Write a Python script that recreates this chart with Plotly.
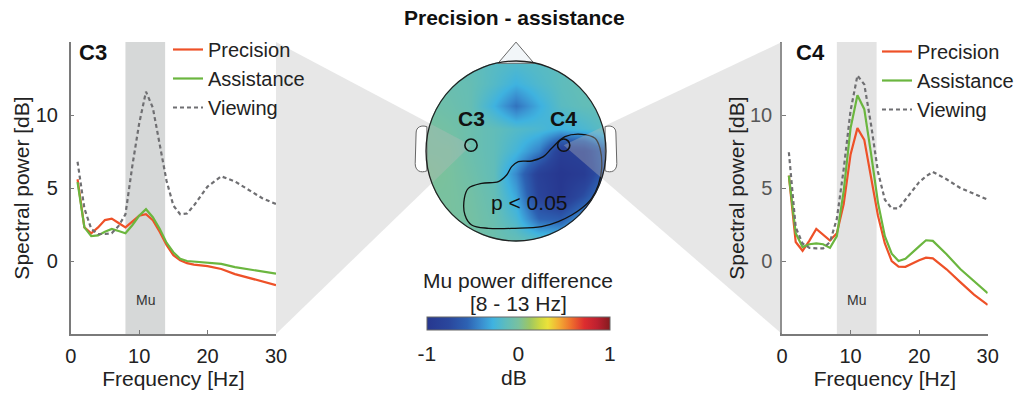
import plotly.graph_objects as go

# ---------------- data ----------------
freq_c3 = [1, 2, 3, 4, 5, 6, 7, 8, 9, 10, 11, 12, 13, 14, 15, 16, 17, 18, 20, 22, 24, 26, 28, 30]
precision_c3 = [5.6, 2.3, 1.9, 2.3, 2.8, 2.9, 2.6, 2.3, 2.7, 3.1, 3.2, 2.8, 2.0, 1.1, 0.4, 0.05, -0.15, -0.25,
                -0.35, -0.55, -0.9, -1.15, -1.4, -1.65]
assistance_c3 = [5.4, 2.3, 1.7, 1.75, 2.0, 2.2, 2.05, 1.9, 2.45, 3.1, 3.55, 3.0, 2.2, 1.25, 0.6, 0.15, 0.0, -0.05,
                 -0.1, -0.2, -0.42, -0.58, -0.72, -0.87]
viewing_c3 = [6.8, 3.6, 2.2, 1.85, 1.85, 1.9, 2.4, 3.2, 6.5, 9.4, 11.6, 10.5, 8.0, 5.5, 3.8, 3.2, 3.25, 3.8,
              5.1, 5.8, 5.45, 4.85, 4.3, 3.9]

freq_c4 = [1, 2, 3, 4, 5, 6, 7, 8, 9, 10, 11, 12, 13, 14, 15, 16, 17, 18, 20, 21, 22, 24, 26, 28, 30]
precision_c4 = [5.85, 1.3, 0.7, 1.4, 2.2, 1.8, 1.4, 1.9, 3.9, 7.3, 9.1, 8.3, 5.6, 3.1, 1.2, 0.0, -0.38, -0.4,
                0.05, 0.23, 0.18, -0.57, -1.45, -2.3, -3.0]
assistance_c4 = [5.85, 1.9, 0.96, 1.15, 1.2, 1.15, 0.9, 1.7, 4.8, 9.1, 11.35, 10.4, 7.3, 4.0, 1.7, 0.5, 0.0, 0.15,
                 1.0, 1.42, 1.38, 0.46, -0.55, -1.4, -2.2]
viewing_c4 = [7.45, 2.3, 1.2, 0.9, 0.87, 0.87, 1.3, 2.9, 6.3, 10.3, 12.7, 12.1, 9.3, 6.1, 4.2, 3.6, 3.6, 4.2,
              5.4, 5.8, 6.1, 5.6, 5.0, 4.6, 4.2]

mu_band = [8, 13.8]
x_ticks = [0, 10, 20, 30]
y_ticks = [0, 5, 10]

# topography (head units, nose up); rows from posterior (y=-1) to frontal (y=1)
topo_x = [-1, -0.75, -0.5, -0.25, 0, 0.25, 0.5, 0.75, 1]
topo_y = [-1, -0.75, -0.5, -0.25, 0, 0.25, 0.5, 0.75, 1]
topo_z = [
    [-0.03, -0.03, -0.04, -0.06, -0.10, -0.15, -0.15, -0.12, -0.10],
    [0.00, 0.00, -0.02, -0.08, -0.22, -0.55, -0.60, -0.32, -0.20],
    [0.00, 0.00, -0.03, -0.10, -0.32, -0.80, -0.97, -0.70, -0.35],
    [0.02, 0.00, -0.05, -0.12, -0.42, -0.86, -0.99, -0.92, -0.55],
    [0.00, 0.00, -0.07, -0.12, -0.25, -0.45, -0.88, -0.85, -0.52],
    [0.00, -0.03, -0.07, -0.12, -0.18, -0.22, -0.28, -0.22, -0.14],
    [-0.04, -0.06, -0.10, -0.28, -0.50, -0.30, -0.16, -0.12, -0.10],
    [-0.06, -0.08, -0.10, -0.18, -0.28, -0.20, -0.14, -0.10, -0.10],
    [-0.08, -0.08, -0.12, -0.16, -0.18, -0.16, -0.14, -0.10, -0.08],
]
electrode_names = ["C3", "C4"]
electrode_x = [-0.5, 0.53]
electrode_y = [0.065, 0.065]

cluster_x = [0.396, 0.544, 0.730, 0.878, 0.933, 0.952, 0.915, 0.841, 0.730, 0.619, 0.470, 0.285, -0.011,
             -0.307, -0.493, -0.567, -0.574, -0.530, -0.381, -0.196, -0.104, -0.048, 0.026, 0.174, 0.304, 0.396]
cluster_y = [0.030, 0.159, 0.185, 0.141, 0.030, -0.193, -0.378, -0.526, -0.637, -0.711, -0.785, -0.841, -0.859,
             -0.859, -0.822, -0.711, -0.526, -0.415, -0.359, -0.341, -0.267, -0.174, -0.119, -0.111, -0.063, 0.030]

cbar_ticks = [-1, -0.75, -0.5, -0.25, 0, 0.25, 0.5, 0.75, 1]
cbar_text = ["-1", "", "", "", "0", "", "", "", "1"]

# ---------------- styling ----------------
W, H = 1024, 398
FONT = "Liberation Sans, Arial, sans-serif"
RED, GREEN, GRAY = "#ee5128", "#6bb63f", "#6f6f72"
AX = "#7a7a7a"


def px(x):
    return x / W


def py(y):
    return 1 - y / H


# panel geometry (pixels)
L_X0, L_X1 = 70.7, 276.0
R_X0, R_X1 = 782.0, 987.7
P_Y0, P_Y1 = 42.0, 334.0
HEAD_CX, HEAD_CY, HEAD_R = 516.0, 151.0, 90.0
HEAD_HALF = 116.0
head_rng = HEAD_HALF / HEAD_R


def hx(u):
    return px(HEAD_CX + HEAD_R * u)


def hy(v):
    return py(HEAD_CY - HEAD_R * v)


colorscale = [
    [0.0, "#27378f"], [0.12, "#2a479d"], [0.22, "#2d62b3"], [0.30, "#3a8fd0"],
    [0.36, "#3fb3e0"], [0.43, "#5ebcbd"], [0.50, "#79c19f"], [0.56, "#9bc665"],
    [0.62, "#cfd940"], [0.66, "#ebe23a"], [0.72, "#f3ae34"], [0.79, "#ee6d2d"],
    [0.86, "#dd2d2f"], [0.93, "#bd2030"], [1.0, "#851b1f"],
]

fig = go.Figure()

series = [("Precision", RED, "solid"), ("Assistance", GREEN, "solid"), ("Viewing", GRAY, "4px,3px")]
left_vals = [precision_c3, assistance_c3, viewing_c3]
right_vals = [precision_c4, assistance_c4, viewing_c4]
for (name, col, dash), yv in zip(series, left_vals):
    fig.add_trace(go.Scatter(x=freq_c3, y=yv, mode="lines", name=name, legend="legend",
                             legendgroup="L" + name,
                             line=dict(color=col, width=2.2, dash=dash), xaxis="x", yaxis="y"))
for (name, col, dash), yv in zip(series, right_vals):
    fig.add_trace(go.Scatter(x=freq_c4, y=yv, mode="lines", name=name, legend="legend2",
                             legendgroup="R" + name,
                             line=dict(color=col, width=2.2, dash=dash), xaxis="x2", yaxis="y2"))

fig.add_trace(go.Heatmap(
    x=topo_x, y=topo_y, z=topo_z, zmin=-1, zmax=1, zsmooth="best", colorscale=colorscale,
    xaxis="x3", yaxis="y3", showscale=True, hoverinfo="skip",
    colorbar=dict(orientation="h", x=px(518.3), xanchor="center", y=py(316.7), yanchor="top",
                  len=183.3 / W, lenmode="fraction", thickness=13.3, thicknessmode="pixels",
                  xpad=0, ypad=0, outlinewidth=1, outlinecolor="#666",
                  tickvals=cbar_ticks, ticktext=cbar_text, ticks="outside", ticklen=6,
                  tickcolor="rgba(0,0,0,0)",
                  tickfont=dict(family=FONT, size=21, color="#222")),
))
fig.add_trace(go.Scatter(x=cluster_x, y=cluster_y, mode="lines", line=dict(color="#111", width=1.3, shape="spline"),
                         xaxis="x3", yaxis="y3", showlegend=False, hoverinfo="skip"))

axis_common = dict(showline=True, linecolor=AX, linewidth=1.5, ticks="inside", ticklen=4, tickcolor=AX,
                   tickwidth=1.2, showgrid=False, zeroline=False, automargin=False,
                   tickfont=dict(family=FONT, size=20, color="#222"))
xt = dict(text="Frequency [Hz]", font=dict(family=FONT, size=21, color="#222"), standoff=6)
yt = dict(text="Spectral power [dB]", font=dict(family=FONT, size=21, color="#222"), standoff=0)

fig.update_layout(
    width=W, height=H, margin=dict(l=0, r=0, t=0, b=0, pad=0, autoexpand=False),
    paper_bgcolor="white", plot_bgcolor="white",
    font=dict(family=FONT, color="#222"),
    xaxis=dict(domain=[px(L_X0), px(L_X1)], range=[0, 30], tickvals=x_ticks, anchor="y", title=xt,
               ticklabelstandoff=3, **axis_common),
    yaxis=dict(domain=[py(P_Y1), py(P_Y0)], range=[-5, 15], tickvals=y_ticks, anchor="x", title=yt,
               ticklabelstandoff=7, **axis_common),
    xaxis2=dict(domain=[px(R_X0), px(R_X1)], range=[0, 30], tickvals=x_ticks, anchor="y2", title=xt,
                ticklabelstandoff=3, **axis_common),
    yaxis2=dict(domain=[py(P_Y1), py(P_Y0)], range=[-5, 15], tickvals=y_ticks, anchor="x2", title=yt,
                ticklabelstandoff=4, **axis_common),
    xaxis3=dict(domain=[hx(-head_rng), hx(head_rng)], range=[-head_rng, head_rng], visible=False, anchor="y3"),
    yaxis3=dict(domain=[hy(-head_rng), hy(head_rng)], range=[-head_rng, head_rng], visible=False, anchor="x3"),
    legend=dict(x=px(168), y=py(30), xanchor="left", yanchor="top", bgcolor="rgba(0,0,0,0)",
                font=dict(family=FONT, size=20, color="#222"), tracegroupgap=0, traceorder="normal"),
    legend2=dict(x=px(877), y=py(32), xanchor="left", yanchor="top", bgcolor="rgba(0,0,0,0)",
                 font=dict(family=FONT, size=20, color="#222"), tracegroupgap=0, traceorder="normal"),
    showlegend=True,
)

shapes = []
# Mu band
shapes.append(dict(type="rect", xref="x", yref="y domain", x0=mu_band[0], x1=mu_band[1], y0=0, y1=1,
                   fillcolor="#d6d8d8", line=dict(width=0), layer="below"))
shapes.append(dict(type="rect", xref="x2", yref="y2 domain", x0=mu_band[0], x1=mu_band[1], y0=0, y1=1,
                   fillcolor="#e3e3e3", line=dict(width=0), layer="below"))

# white mask around the scalp
k = 0.5523
rr = 1.004
m = head_rng + 0.05
circle_path = (f"M{rr},0 C{rr},{k*rr} {k*rr},{rr} 0,{rr} C{-k*rr},{rr} {-rr},{k*rr} {-rr},0 "
               f"C{-rr},{-k*rr} {-k*rr},{-rr} 0,{-rr} C{k*rr},{-rr} {rr},{-k*rr} {rr},0 Z")
mask = f"M{-m},{-m} L{m},{-m} L{m},{m} L{-m},{m} Z " + circle_path
shapes.append(dict(type="path", xref="x3", yref="y3", path=mask, fillcolor="white", fillrule="evenodd",
                   line=dict(width=0), layer="above"))

# wedges linking panels to electrodes
wedge_fill = "rgba(185,185,185,0.35)"
ex0, ey0 = hx(electrode_x[0]), hy(electrode_y[0])
ex1, ey1 = hx(electrode_x[1]), hy(electrode_y[1])
shapes.append(dict(type="path", xref="paper", yref="paper", layer="above", fillcolor=wedge_fill,
                   line=dict(width=0),
                   path=f"M{px(L_X1)},{py(P_Y0)} L{ex0},{ey0} L{px(L_X1)},{py(P_Y1)} Z"))
shapes.append(dict(type="path", xref="paper", yref="paper", layer="above", fillcolor=wedge_fill,
                   line=dict(width=0),
                   path=f"M{px(R_X0)},{py(P_Y0)} L{ex1},{ey1} L{px(R_X0)},{py(P_Y1)} Z"))

# ears and nose
ear_l = "M-0.99,0.27 C-1.05,0.29 -1.11,0.27 -1.11,0.2 L-1.12,-0.14 C-1.12,-0.22 -1.06,-0.25 -0.99,-0.22"
ear_r = "M0.99,0.27 C1.05,0.29 1.11,0.27 1.11,0.2 L1.12,-0.14 C1.12,-0.22 1.06,-0.25 0.99,-0.22"
for e in (ear_l, ear_r):
    shapes.append(dict(type="path", xref="x3", yref="y3", path=e + " Z", fillcolor="white",
                       line=dict(color="#666", width=1), layer="above"))
shapes.append(dict(type="path", xref="x3", yref="y3", path="M-0.2,0.975 L0,1.21 L0.2,0.975 Z",
                   fillcolor="#f2f6f9", line=dict(color="#666", width=1), layer="above"))
# head outline
shapes.append(dict(type="circle", xref="x3", yref="y3", x0=-1, x1=1, y0=-1, y1=1,
                   line=dict(color="#222", width=1.3), layer="above"))
# electrodes
er = 0.068
for ex, ey in zip(electrode_x, electrode_y):
    shapes.append(dict(type="circle", xref="x3", yref="y3", x0=ex - er, x1=ex + er, y0=ey - er, y1=ey + er,
                       line=dict(color="#111", width=1.6), layer="above"))
fig.update_layout(shapes=shapes)


def paper_note(text, x, y, size=21, color="#222", xanchor="center"):
    return dict(text=text, x=px(x), y=py(y), xref="paper", yref="paper", xanchor=xanchor, yanchor="middle",
                showarrow=False, font=dict(family=FONT, size=size, color=color))


ann = []
ann.append(paper_note("<b>Precision - assistance</b>", 514, 18, color="#111"))
ann.append(paper_note("<b>C3</b>", 77, 52, size=22, color="#111", xanchor="left"))
ann.append(paper_note("<b>C4</b>", 794, 52, size=22, color="#111", xanchor="left"))
mu_mid = (mu_band[0] + mu_band[1]) / 2
for xr, yr in (("x", "y"), ("x2", "y2")):
    ann.append(dict(text="Mu", x=mu_mid, y=-2.7, xref=xr, yref=yr, xanchor="center", yanchor="middle",
                    showarrow=False, font=dict(family=FONT, size=14, color="#333")))
for nm, ex, ey in zip(electrode_names, electrode_x, electrode_y):
    ann.append(dict(text=f"<b>{nm}</b>", x=ex, y=ey, xref="x3", yref="y3", yshift=27, showarrow=False,
                    xanchor="center", yanchor="middle", font=dict(family=FONT, size=21, color="#111")))
ann.append(dict(text="p < 0.05", x=0.14, y=-0.567, xref="x3", yref="y3", showarrow=False,
                xanchor="center", yanchor="middle", font=dict(family=FONT, size=21, color="#111")))
ann.append(paper_note("Mu power difference", 518, 280))
ann.append(paper_note("[8 - 13 Hz]", 518, 303))
ann.append(paper_note("dB", 514, 377))
fig.update_layout(annotations=ann)

fig.write_html("out.html", config={"displayModeBar": False},
               post_script="document.body.style.margin='0px';")
